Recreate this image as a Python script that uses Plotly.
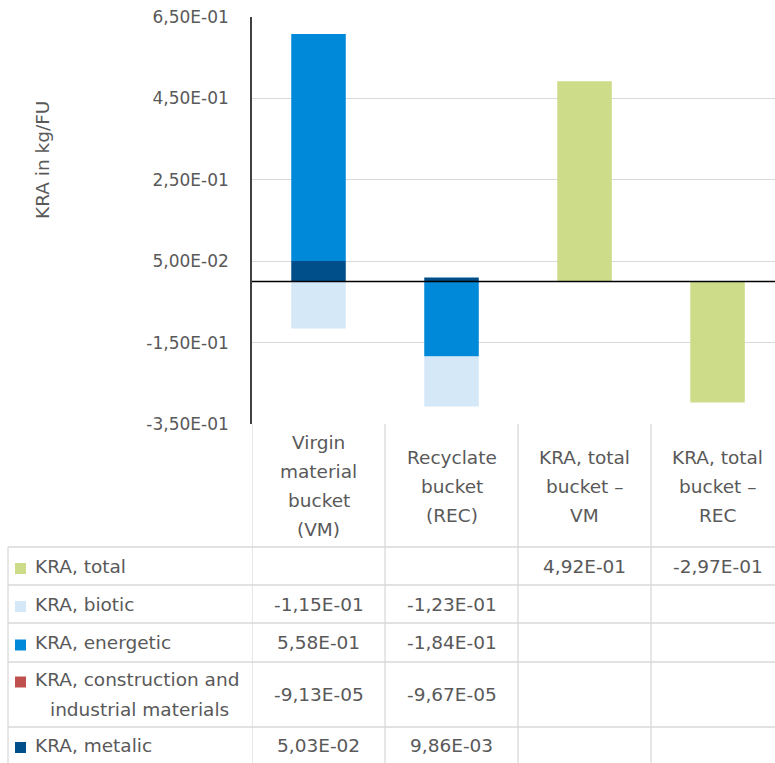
import plotly.graph_objects as go

# ---------------- data ----------------
category_lines = [
    ["Virgin", "material", "bucket", "(VM)"],
    ["Recyclate", "bucket", "(REC)"],
    ["KRA, total", "bucket –", "VM"],
    ["KRA, total", "bucket –", "REC"],
]
categories = [" ".join(l) for l in category_lines]

kra_total = [None, None, 4.92e-1, -2.97e-1]
kra_biotic = [-1.15e-1, -1.23e-1, None, None]
kra_energetic = [5.58e-1, -1.84e-1, None, None]
kra_construction = [-9.13e-5, -9.67e-5, None, None]
kra_metalic = [5.03e-2, 9.86e-3, None, None]

series_names = [
    "KRA, total",
    "KRA, biotic",
    "KRA, energetic",
    "KRA, construction and industrial materials",
    "KRA, metalic",
]
series_label_lines = [
    ["KRA, total"],
    ["KRA, biotic"],
    ["KRA, energetic"],
    ["KRA, construction and", "industrial materials"],
    ["KRA, metalic"],
]
series_values = [kra_total, kra_biotic, kra_energetic, kra_construction, kra_metalic]
series_colors = ["#cddc89", "#d5e8f8", "#0088d9", "#c0504d", "#004f8a"]

y_tick_vals = [-0.35, -0.15, 0.05, 0.25, 0.45, 0.65]
y_title = "KRA in kg/FU"


def fmt(v):
    return f"{v:.2E}".replace(".", ",")


# ---------------- layout helpers ----------------
W, H = 775, 763
TEXT = "#595959"
GRID = "#d9d9d9"
TFONT = "DejaVu Sans"
TSIZE = 18.5


def xp(px):
    return px / W


def yp(py):
    return 1 - py / H


fig = go.Figure()

# stacking order (bottom first): metalic, construction, energetic, biotic, total
for idx in [4, 3, 2, 1, 0]:
    fig.add_trace(go.Bar(
        x=categories, y=series_values[idx], name=series_names[idx],
        marker=dict(color=series_colors[idx], line=dict(width=0)),
        showlegend=False,
    ))

shapes = []
annotations = []

# zero line above bars
shapes.append(dict(type="line", xref="paper", yref="y", x0=xp(252), x1=1, y0=0, y1=0,
                   line=dict(color="#000000", width=1.5), layer="above"))

# table grid: vertical lines
for b in [-0.5, 0.5, 1.5, 2.5]:
    shapes.append(dict(type="line", xref="x", yref="paper", x0=b, x1=b,
                       y0=yp(424), y1=0, line=dict(color=GRID, width=1.3), layer="below"))
# left border of legend column
shapes.append(dict(type="line", xref="paper", yref="paper", x0=xp(8), x1=xp(8),
                   y0=yp(547), y1=0, line=dict(color=GRID, width=1.3)))
# horizontal row lines
row_edges = [547, 585, 623, 662, 727, 763]
for r in row_edges[:-1]:
    shapes.append(dict(type="line", xref="paper", yref="paper", x0=xp(8), x1=1,
                       y0=yp(r), y1=yp(r), line=dict(color=GRID, width=1.3)))

# header (category names)
head_mid, head_step = 486, 29
for ci, lines in enumerate(category_lines):
    n = len(lines)
    for li, t in enumerate(lines):
        py = head_mid + (li - (n - 1) / 2) * head_step
        annotations.append(dict(x=categories[ci], xref="x", y=yp(py), yref="paper",
                                text=t, showarrow=False, xanchor="center", yanchor="middle",
                                font=dict(family=TFONT, size=TSIZE, color=TEXT)))

# rows: legend keys, names, values
line_step = 30
for si in range(len(series_names)):
    top, bot = row_edges[si], row_edges[si + 1]
    lines = series_label_lines[si]
    n = len(lines)
    mid = (top + bot) / 2 if si < len(series_names) - 1 else 745
    first_py = mid - (n - 1) / 2 * line_step
    # key square
    shapes.append(dict(type="rect", xref="paper", yref="paper",
                       x0=xp(15), x1=xp(26), y0=yp(first_py + 8), y1=yp(first_py - 3),
                       fillcolor=series_colors[si], line=dict(width=0)))
    for li, t in enumerate(lines):
        py = first_py + li * line_step
        if li == 0:
            annotations.append(dict(x=xp(33), xref="paper", y=yp(py), yref="paper", text=t,
                                    showarrow=False, xanchor="left", yanchor="middle",
                                    font=dict(family=TFONT, size=TSIZE, color=TEXT)))
        else:
            annotations.append(dict(x=xp(139), xref="paper", y=yp(py), yref="paper", text=t,
                                    showarrow=False, xanchor="center", yanchor="middle",
                                    font=dict(family=TFONT, size=TSIZE, color=TEXT)))
    for ci, v in enumerate(series_values[si]):
        if v is None:
            continue
        annotations.append(dict(x=categories[ci], xref="x", y=yp(mid), yref="paper",
                                text=fmt(v), showarrow=False, xanchor="center", yanchor="middle",
                                font=dict(family=TFONT, size=TSIZE, color=TEXT)))

# y-axis title
annotations.append(dict(x=xp(42), xref="paper", y=yp(160), yref="paper", text=y_title,
                        textangle=-90, showarrow=False, xanchor="center", yanchor="middle",
                        font=dict(family=TFONT, size=TSIZE, color=TEXT)))

fig.update_layout(
    width=W, height=H,
    margin=dict(l=0, r=0, t=0, b=0, pad=0, autoexpand=False),
    paper_bgcolor="white", plot_bgcolor="white",
    barmode="relative", bargap=0.59,
    shapes=shapes, annotations=annotations,
    xaxis=dict(domain=[xp(252), 1], range=[-0.5, 3.432], showticklabels=False,
               showgrid=False, zeroline=False, showline=False, fixedrange=True,
               automargin=False),
    yaxis=dict(domain=[yp(424), yp(17)], range=[-0.35, 0.65],
               tickvals=y_tick_vals, ticktext=[fmt(v) for v in y_tick_vals],
               tickfont=dict(family=TFONT, size=17, color=TEXT),
               showgrid=True, gridcolor=GRID, gridwidth=1.3, zeroline=False,
               showline=True, linecolor="#404040", linewidth=1.5,
               ticks="", ticklabelstandoff=18, fixedrange=True, automargin=False),
)

fig.write_html("out.html")
